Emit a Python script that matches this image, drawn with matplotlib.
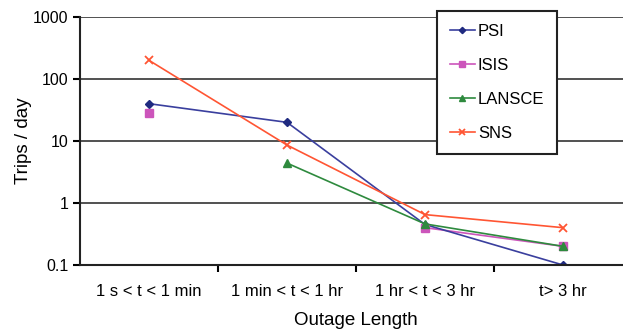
import numpy as np
import matplotlib.pyplot as plt

categories = ['1 s < t < 1 min', '1 min < t < 1 hr', '1 hr < t < 3 hr', 't> 3 hr']
psi = [40, 20, 0.45, 0.1]
isis = [28, np.nan, 0.4, 0.2]
lansce = [np.nan, 4.4, 0.46, 0.2]
sns_ = [200, 8.6, 0.65, 0.4]

plt.rcParams['font.family'] = ['Liberation Sans', 'DejaVu Sans']

fig = plt.figure(figsize=(6.23, 3.31), dpi=100)
ax = fig.add_axes([80 / 623, 1 - 265 / 331, 552 / 623, 248 / 331])

x = np.arange(len(categories))
ax.plot(x, psi, color='#3a3f9e', marker='D', ms=4, mfc='#1f2a80', mec='#1f2a80', lw=1.2, label='PSI')
ax.plot(x, isis, color='#cc55bb', marker='s', ms=6, lw=1.2, ls='none', label='ISIS')
ax.plot(x, lansce, color='#2e8a3e', marker='^', ms=6, lw=1.2, label='LANSCE')
ax.plot(x, sns_, color='#ff5533', marker='x', ms=6, mew=1.3, lw=1.2, label='SNS')
# ISIS segment between 3rd and 4th points
ax.plot(x[2:], isis[2:], color='#cc55bb', lw=1.2, zorder=1)

ax.set_yscale('log')
ax.set_ylim(0.1, 1000)
ax.set_xlim(-0.5, 3.5)
ax.set_yticks([0.1, 1, 10, 100, 1000])
ax.set_yticklabels(['0.1', '1', '10', '100', '1000'])
ax.minorticks_off()
ax.yaxis.grid(True, color='#333333', lw=1.2)
ax.set_axisbelow(True)

ax.set_xticks(x)
ax.set_xticklabels(categories)
ax.set_xticks([0.5, 1.5, 2.5], minor=True)
ax.tick_params(axis='x', which='major', length=0, pad=14, labelsize=12)
ax.tick_params(axis='x', which='minor', length=5, width=1.5, direction='out')
ax.tick_params(axis='y', length=5, width=1.5, labelsize=11.5)

for s in ['top', 'right']:
    ax.spines[s].set_visible(False)
for s in ['left', 'bottom']:
    ax.spines[s].set_linewidth(1.5)
    ax.spines[s].set_color('#222222')

ax.set_ylabel('Trips / day', fontsize=13.5)
ax.set_xlabel('Outage Length', fontsize=13.5)
ax.yaxis.set_label_coords(-0.087, 0.5)
ax.xaxis.set_label_coords(0.5, -0.19)

leg = ax.legend(loc='upper left', bbox_to_anchor=(437 / 623, 1 - 11 / 331),
                bbox_transform=fig.transFigure, fontsize=12, markerscale=0.8,
                frameon=True, fancybox=False, framealpha=1, edgecolor='#222222',
                handlelength=1.5, labelspacing=1.15, borderpad=0.75, handletextpad=0.2,
                borderaxespad=0)
leg.get_frame().set_linewidth(1.5)
# ISIS handle should show a line
for h in leg.legend_handles:
    h.set_linestyle('-')

fig.savefig('out.png', dpi=100)
